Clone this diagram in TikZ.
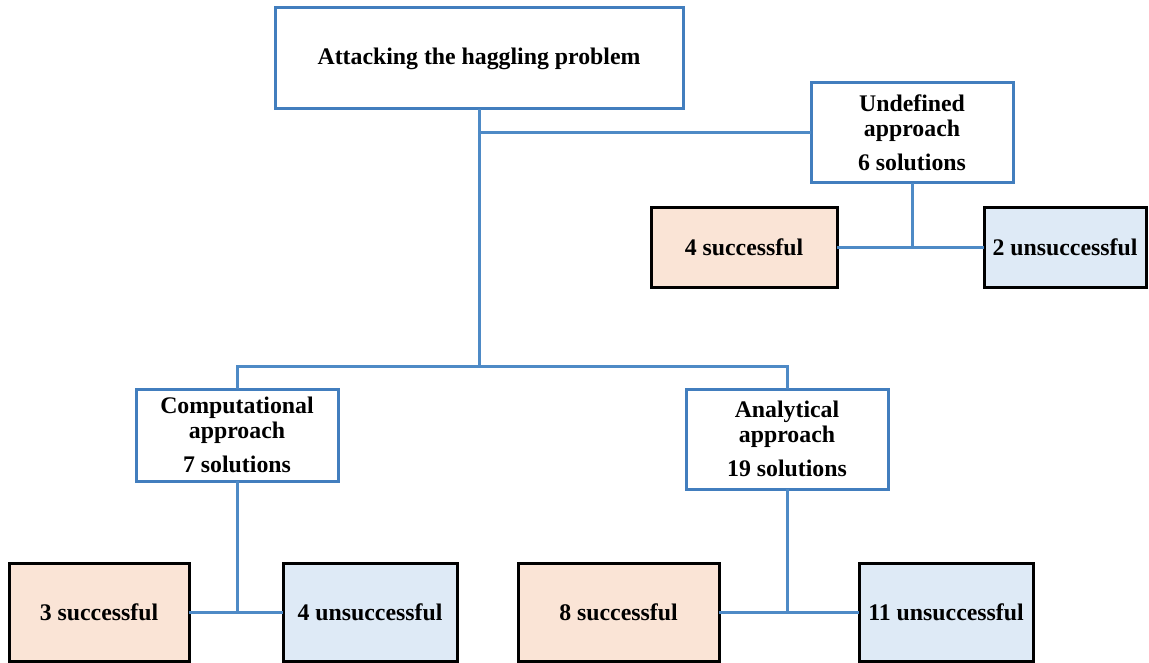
\documentclass[tikz,border=0pt]{standalone}
\usepackage{fontspec}
\setmainfont{Liberation Serif}
\definecolor{boxblue}{RGB}{66,126,190}
\definecolor{linkblue}{RGB}{78,138,198}
\definecolor{peach}{RGB}{250,228,214}
\definecolor{paleblue}{RGB}{222,234,246}
\begin{document}
\begin{tikzpicture}[x=1pt,y=-1pt,
  txt/.style={align=center,inner sep=0pt,outer sep=0pt,
    font=\fontsize{23.8}{25}\selectfont\bfseries},
  approachbox/.style={txt,draw=boxblue,line width=3pt,fill=white},
  goodbox/.style={txt,draw=black,line width=3pt,fill=peach},
  badbox/.style={txt,draw=black,line width=3pt,fill=paleblue},
  link/.style={draw=linkblue,line width=3pt}]
\useasboundingbox (0,0) rectangle (1149,663);

% root
\node[approachbox,minimum width=408pt,minimum height=101pt] (root) at (479,58.5)
  {Attacking the haggling problem};

% approaches
\node[approachbox,minimum width=202pt,minimum height=100pt] (undef) at (912,133)
  {Undefined\\approach\\[9pt]6 solutions};
\node[approachbox,minimum width=202pt,minimum height=92pt] (comp) at (237,435)
  {Computational\\approach\\[9pt]7 solutions};
\node[approachbox,minimum width=202pt,minimum height=100pt] (anal) at (787,439)
  {Analytical\\approach\\[9pt]19 solutions};

% outcomes
\node[goodbox,minimum width=186pt,minimum height=79pt] (undefgood) at (744,247.5) {4 successful};
\node[badbox,minimum width=162pt,minimum height=79pt] (undefbad) at (1065,247.5) {2 unsuccessful};
\node[goodbox,minimum width=180pt,minimum height=98pt] (compgood) at (99,612.5) {3 successful};
\node[badbox,minimum width=174pt,minimum height=98pt] (compbad) at (370,612.5) {4 unsuccessful};
\node[goodbox,minimum width=201pt,minimum height=98pt] (analgood) at (618.5,612.5) {8 successful};
\node[badbox,minimum width=174pt,minimum height=98pt] (analbad) at (946,612.5) {11 unsuccessful};

% connectors
\coordinate (split) at (479,366.5);
\path[link] (root.south) -- (split);
\path[link] (root.south |- undef.west) -- (undef.west);
\path[link] (comp.north) -- (comp.north |- split) -| (anal.north);

\path[link] (undef.south) -- (undef.south |- undefgood.east);
\path[link] (undefgood.east) -- (undefbad.west);

\path[link] (comp.south) -- (comp.south |- compgood.east);
\path[link] (compgood.east) -- (compbad.west);

\path[link] (anal.south) -- (anal.south |- analgood.east);
\path[link] (analgood.east) -- (analbad.west);
\end{tikzpicture}
\end{document}
